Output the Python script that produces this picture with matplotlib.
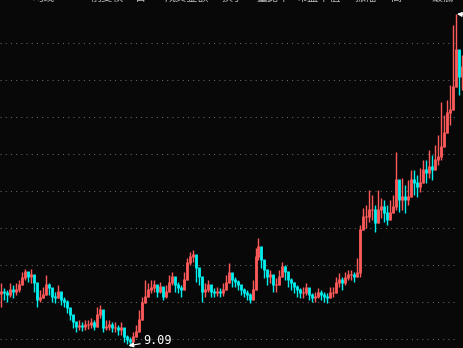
import numpy as np
import matplotlib.pyplot as plt

# closing prices, one candle per 3 px column
closes = [16.35, 16.22, 15.95, 16.62, 16.35, 16.62, 17.30, 18.24, 19.05, 18.38,
          18.65, 17.57, 15.27, 15.54, 15.95, 17.30, 16.89, 15.68, 15.54, 16.35,
          15.27, 15.00, 14.19, 13.24, 12.30, 11.62, 11.76, 11.62, 11.89, 11.89,
          12.16, 11.62, 13.24, 13.92, 11.49, 11.62, 11.89, 11.49, 11.49, 11.22,
          11.49, 10.27, 9.86, 9.59, 10.27, 10.95, 12.57, 14.86, 15.68, 16.62,
          16.89, 17.30, 16.35, 17.03, 15.68, 16.35, 17.57, 18.38, 17.30, 16.89,
          16.62, 17.97, 20.27, 21.08, 21.35, 19.59, 18.38, 16.35, 16.62, 17.30,
          16.35, 16.22, 16.35, 16.22, 16.62, 17.57, 18.92, 17.97, 17.70, 17.30,
          16.62, 16.22, 15.95, 15.27, 16.62, 21.08, 22.43, 20.68, 19.32, 18.38,
          18.65, 17.30, 17.30, 18.38, 19.73, 19.05, 17.97, 17.57, 17.03, 16.62,
          16.22, 16.22, 16.89, 15.95, 15.54, 15.68, 16.22, 15.95, 15.68, 15.54,
          16.22, 16.22, 17.57, 17.97, 17.57, 18.24, 18.65, 18.65, 18.38, 18.92,
          24.73, 26.49, 26.49, 27.43, 27.43, 25.68, 27.43, 27.84, 27.03, 26.08,
          27.03, 27.84, 31.49, 28.78, 29.19, 28.78, 29.19, 31.49, 31.08, 30.54,
          31.08, 32.84, 32.43, 33.24, 32.84, 34.19, 34.59, 35.95, 37.84, 40.54,
          40.95, 44.05, 49.05, 45.41, 46.76]

highs = [17.57, 16.89, 16.62, 17.57, 17.30, 17.57, 17.97, 19.05, 19.46, 19.05,
         19.46, 18.38, 16.35, 16.62, 17.03, 18.65, 17.57, 16.62, 16.35, 17.30,
         15.95, 15.68, 15.27, 14.19, 13.24, 12.30, 12.57, 12.30, 12.57, 12.57,
         12.84, 12.57, 14.32, 14.59, 12.84, 12.57, 12.57, 12.30, 12.30, 11.89,
         12.30, 10.95, 10.54, 10.27, 10.95, 11.89, 13.92, 15.68, 17.97, 17.57,
         17.97, 17.97, 17.30, 17.70, 16.62, 17.30, 18.65, 19.05, 18.24, 17.70,
         17.30, 19.05, 20.95, 21.76, 22.03, 20.40, 19.32, 17.30, 17.57, 17.97,
         17.03, 16.89, 17.03, 16.89, 17.57, 18.65, 20.27, 18.65, 18.38, 17.97,
         17.30, 16.89, 16.62, 16.22, 17.97, 22.30, 23.65, 21.76, 20.40, 19.32,
         19.32, 18.24, 18.24, 19.32, 20.40, 20.00, 18.92, 18.24, 17.70, 17.30,
         16.89, 17.03, 17.57, 16.62, 16.22, 16.35, 16.89, 16.62, 16.35, 16.22,
         17.03, 17.03, 18.38, 18.92, 18.38, 19.05, 19.32, 19.32, 19.05, 20.95,
         25.40, 27.70, 28.11, 30.13, 29.46, 28.11, 30.13, 29.05, 28.78, 28.11,
         28.78, 29.46, 35.27, 30.81, 31.76, 30.81, 31.49, 32.84, 32.84, 32.16,
         33.11, 34.19, 34.19, 35.54, 34.86, 36.22, 37.57, 42.03, 40.27, 42.30,
         44.32, 52.43, 53.92, 48.38, 48.38]

lows = [14.32, 15.27, 15.00, 15.68, 15.54, 15.95, 16.35, 17.30, 17.97, 17.70,
        17.57, 16.35, 14.32, 15.00, 15.54, 16.35, 15.95, 15.00, 14.86, 15.54,
        14.59, 14.32, 13.51, 12.57, 11.49, 10.95, 11.22, 11.08, 11.22, 11.35,
        11.49, 11.22, 12.84, 12.84, 10.95, 11.22, 11.22, 10.95, 10.95, 10.54,
        10.54, 9.59, 9.32, 9.09, 9.59, 10.27, 11.49, 13.92, 14.86, 15.68,
        16.22, 16.35, 15.68, 16.22, 15.27, 15.54, 16.62, 17.30, 16.35, 16.22,
        15.68, 16.62, 18.65, 20.00, 20.40, 17.70, 17.30, 15.00, 15.68, 16.35,
        15.68, 15.68, 15.81, 15.68, 15.81, 16.62, 17.57, 17.03, 17.03, 16.62,
        15.95, 15.68, 15.27, 14.86, 15.27, 19.32, 20.68, 19.59, 18.24, 17.30,
        17.57, 16.35, 16.35, 17.30, 18.65, 17.97, 17.03, 16.62, 16.22, 15.68,
        15.54, 15.54, 15.95, 15.27, 15.00, 15.00, 15.54, 15.27, 15.00, 14.86,
        15.54, 15.68, 16.62, 17.03, 16.62, 17.30, 17.97, 17.97, 17.70, 18.38,
        18.38, 25.00, 25.00, 25.81, 26.08, 24.46, 26.08, 26.35, 25.81, 25.40,
        26.08, 27.03, 27.43, 27.16, 27.43, 27.03, 28.11, 29.46, 29.46, 29.19,
        29.86, 31.49, 31.08, 31.76, 31.49, 32.84, 33.51, 34.19, 36.22, 38.92,
        38.92, 42.30, 45.00, 42.97, 43.65]

grid_levels = [10, 15, 20, 25, 30, 35, 40, 45, 50]
low_label = '9.09'
high_label = '53.92'
# title row: only the bottoms of the characters show at the top edge
top_x = [33, 90, 135, 165, 222, 256, 296, 355, 390, 432]
top_text = ['\u5747\u7ebf', '\u524d\u590d\u6743', '\u65e5', '\u6210\u4ea4\u91d1\u989d',
            '\u6362\u624b', '\u91cf\u6bd4\u7387', '\u5e02\u76c8\u7387\u503c',
            '\u632f\u5e45', '\u9ad8', '\u6700\u4f4e']

closes = np.array(closes)
opens = np.concatenate([[closes[0] - 0.3], closes[:-1]])
highs = np.maximum(np.array(highs), np.maximum(opens, closes))
lows = np.minimum(np.array(lows), np.minimum(opens, closes))
idx = np.arange(len(closes))

bg = '#080808'
red = '#ff5a5a'
cyan = '#00f0f0'

fig = plt.figure(figsize=(4.63, 3.48), dpi=100, facecolor=bg)
ax = fig.add_axes([0, 0, 1, 1])
ax.set_facecolor(bg)

for lv in grid_levels:
    ax.axhline(lv, xmin=0, xmax=455 / 463, color='#6a6a6a', lw=0.75,
               linestyle=(0, (1, 4)), zorder=1)

up = closes >= opens
cols = np.where(up, red, cyan)
ax.vlines(idx, lows, highs, colors=cols, lw=1.0, zorder=2)
ax.vlines(idx, np.minimum(opens, closes), np.maximum(opens, closes) + 0.08,
          colors=cols, lw=2.0, zorder=3)

# lowest price marker
ax.annotate(low_label, xy=(42.6, 9.09), xytext=(47.4, 9.73),
            color='white', fontsize=8.5, family='DejaVu Sans Mono', va='center',
            arrowprops=dict(arrowstyle='-|>', color='white', lw=0.8,
                            shrinkA=0, shrinkB=0, mutation_scale=7))
# highest price marker, its label runs off the right edge
ax.annotate(high_label, xy=(152.3, 53.92), xytext=(155.5, 53.6),
            color='white', fontsize=8.5, family='DejaVu Sans Mono', va='center',
            arrowprops=dict(arrowstyle='-|>', color='white', lw=0.8,
                            shrinkA=0, shrinkB=0, mutation_scale=7),
            annotation_clip=False)

ax.set_xlim(-0.334, 154.3)
ax.set_ylim(8.78, 55.81)
ax.axis('off')

for x, t in zip(top_x, top_text):
    fig.text(x / 463, 1 - 2.5 / 348, t, color='#b4b4b4', fontsize=8,
             family=['Noto Sans CJK SC', 'DejaVu Sans'], va='bottom', ha='left')

fig.savefig('out.png', dpi=100, facecolor=bg)
